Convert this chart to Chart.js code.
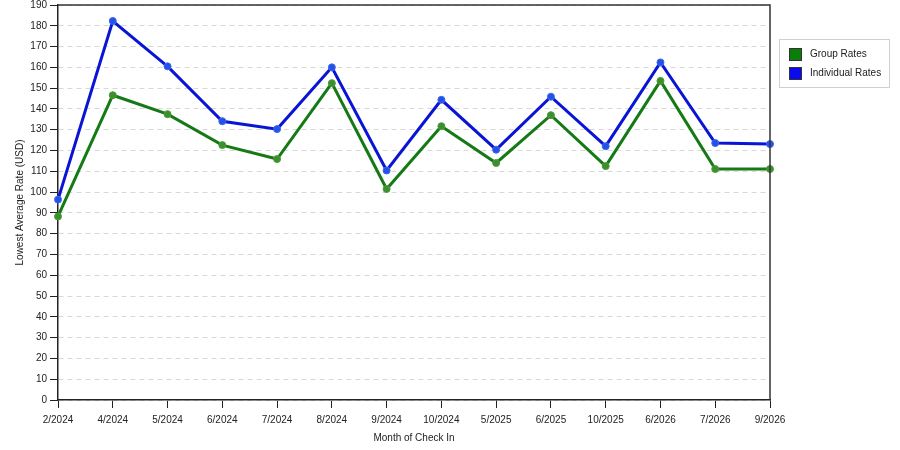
<!DOCTYPE html>
<html>
<head>
<meta charset="utf-8">
<script src="https://cdn.jsdelivr.net/npm/chart.js@4"></script>
<style>
html,body{margin:0;padding:0;background:#fff;}
canvas{display:block;}
</style>
</head>
<body>
<canvas id="c" width="900" height="450"></canvas>
<script>
const categories = ["2/2024","4/2024","5/2024","6/2024","7/2024","8/2024","9/2024","10/2024","5/2025","6/2025","10/2025","6/2026","7/2026","9/2026"];
const groupRates = [88.3,146.6,137.5,122.6,115.9,152.4,101.5,131.7,114.0,137.0,112.5,153.5,111.1,111.1];
const individualRates = [96.4,182.3,160.5,134.1,130.3,160.0,110.4,144.4,120.4,145.9,122.1,162.4,123.6,123.1];
const seriesNames = ["Group Rates","Individual Rates"];
const yTitle = "Lowest Average Rate (USD)";
const xTitle = "Month of Check In";

const FONT = "'Liberation Sans', Arial, sans-serif";

const framePlugin = {
  id: 'frame',
  afterDatasetsDraw(chart) {
    const {ctx, chartArea: a} = chart;
    ctx.save();
    ctx.strokeStyle = '#333';
    ctx.lineWidth = 1.5;
    ctx.beginPath();
    ctx.moveTo(a.left, a.top);
    ctx.lineTo(a.right, a.top);
    ctx.lineTo(a.right, a.bottom);
    ctx.stroke();
    ctx.restore();
  },
  afterDraw(chart) {
    const ctx = chart.ctx;
    ctx.save();
    ctx.strokeStyle = '#d0d0d0';
    ctx.lineWidth = 1;
    ctx.strokeRect(779.5, 39.5, 110, 48);
    ctx.font = "10px " + FONT;
    ctx.textBaseline = 'middle';
    ctx.textAlign = 'left';
    chart.data.datasets.forEach((ds, i) => {
      const y = 48 + i * 19;
      ctx.fillStyle = ds.swatch;
      ctx.fillRect(789, y, 12, 12);
      ctx.strokeStyle = '#333';
      ctx.strokeRect(789.5, y + 0.5, 12, 12);
      ctx.fillStyle = '#222';
      ctx.fillText(ds.label, 810, y + 6.5);
    });
    ctx.restore();
  }
};

new Chart(document.getElementById('c'), {
  type: 'line',
  data: {
    labels: categories,
    datasets: [
      {
        label: seriesNames[0],
        data: groupRates,
        borderColor: '#157a15',
        backgroundColor: '#3b8f2a',
        pointBackgroundColor: '#3d8f2d',
        pointBorderColor: '#4a9a3a',
        swatch: '#0a7d0a',
        borderWidth: 3,
        pointRadius: 3.5,
        pointBorderWidth: 1,
        tension: 0
      },
      {
        label: seriesNames[1],
        data: individualRates,
        borderColor: '#0a14d4',
        backgroundColor: '#2550e8',
        pointBackgroundColor: '#2452e6',
        pointBorderColor: '#3a66ee',
        swatch: '#0a0af0',
        borderWidth: 3,
        pointRadius: 3.5,
        pointBorderWidth: 1,
        tension: 0
      }
    ]
  },
  options: {
    responsive: false,
    animation: false,
    devicePixelRatio: 1,
    layout: { padding: { left: 0, right: 130, top: 4, bottom: 0 } },
    plugins: {
      legend: { display: false },
      tooltip: { enabled: false }
    },
    scales: {
      x: {
        offset: false,
        grid: { drawOnChartArea: false, drawTicks: true, tickLength: 8, tickColor: '#222', tickWidth: 1 },
        border: { display: true, color: '#222', width: 1.5 },
        ticks: { font: { family: FONT, size: 10 }, color: '#222', padding: 6, maxRotation: 0, autoSkip: false },
        title: { display: true, text: xTitle, font: { family: FONT, size: 10 }, color: '#222', padding: { top: 4, bottom: 6 } },
        afterFit(s) { s.height = 50; }
      },
      y: {
        min: 0,
        max: 190,
        ticks: { stepSize: 10, font: { family: FONT, size: 10 }, color: '#222', padding: 3 },
        grid: { color: '#d8d8d8', lineWidth: 1, drawTicks: true, tickLength: 8, tickColor: '#222', tickWidth: 1, tickBorderDash: [] },
        border: { display: true, color: '#222', width: 1.5, dash: [5, 4] },
        title: { display: true, text: yTitle, font: { family: FONT, size: 10 }, color: '#222', padding: { top: 14, bottom: 0 } },
        afterFit(s) { s.width = 58; s.paddingTop = 0; s.paddingBottom = 0; }
      }
    }
  },
  plugins: [framePlugin]
});
</script>
</body>
</html>
